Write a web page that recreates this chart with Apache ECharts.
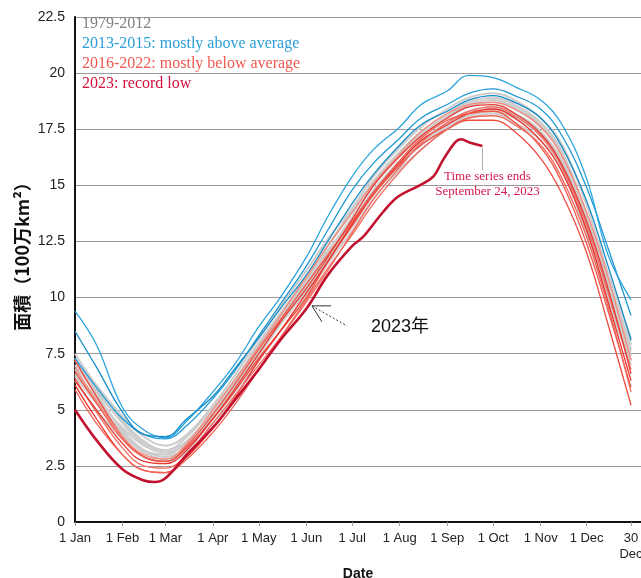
<!DOCTYPE html>
<html><head><meta charset="utf-8">
<script src="https://cdn.jsdelivr.net/npm/echarts@6/dist/echarts.min.js"></script>
<style>html,body{margin:0;padding:0;background:#fff}#c{width:641px;height:578px}</style>
</head><body><div id="c"></div>
<script>
// sample days (day of year, 0 = 1 Jan)
const days = [0,14,31,45,59,73,90,104,120,134,151,165,181,195,212,226,243,257,273,287,304,318,334,348,363];
const tickDays = [0,31,59,90,120,151,181,212,243,273,304,334,363];
const tickLabels = ['1 Jan','1 Feb','1 Mar','1 Apr','1 May','1 Jun','1 Jul','1 Aug','1 Sep','1 Oct','1 Nov','1 Dec','30\nDec'];

// 1979-2012 (grey band, representative lines)
const grey1 = [7.5,6.1,4.7,3.8,3.4,3.9,5.2,6.5,8.2,9.6,11.2,12.6,14.0,15.4,16.7,17.6,18.4,18.9,19.1,18.8,18.0,16.8,14.1,11.1,8.2];
const grey2 = [7.2,5.9,4.4,3.5,3.2,3.8,5.1,6.3,8.0,9.3,10.9,12.3,13.8,15.2,16.5,17.4,18.2,18.7,18.9,18.6,17.8,16.5,13.7,10.8,7.9];
const grey3 = [6.8,5.5,4.2,3.4,3.1,3.5,4.7,6.0,7.6,9.0,10.5,12.0,13.6,15.0,16.3,17.2,18.0,18.5,18.7,18.4,17.6,16.3,13.5,10.5,7.6];
const grey4 = [7.0,5.7,4.1,3.2,2.9,3.4,4.8,6.1,7.8,9.1,10.7,12.1,13.4,14.8,16.1,17.0,17.8,18.3,18.5,18.2,17.4,16.0,13.3,10.2,7.4];
const grey5 = [6.5,5.3,3.9,3.1,2.8,3.3,4.6,5.8,7.4,8.8,10.3,11.7,13.2,14.6,15.9,16.8,17.6,18.1,18.3,18.0,17.2,15.9,13.0,10.0,7.2];
const grey6 = [6.3,5.0,3.7,2.9,2.7,3.1,4.4,5.6,7.2,8.5,10.1,11.5,13.0,14.4,15.7,16.6,17.5,18.0,18.2,17.8,17.0,15.7,12.8,9.8,7.0];
const grey7 = [7.3,5.8,4.5,3.6,3.2,3.6,4.9,6.2,7.9,9.2,10.8,12.3,13.9,15.1,16.4,17.3,18.1,18.6,18.8,18.5,17.7,16.4,13.6,10.7,7.9];
const grey8 = [6.6,5.4,4.0,3.2,3.0,3.6,4.9,6.0,7.5,8.8,10.4,11.8,13.3,14.7,16.0,16.9,17.7,18.2,18.4,18.1,17.3,16.1,13.2,10.3,7.7];

// 2013-2015 (blue)
const blue2013 = [7.3,6.0,4.6,3.9,3.7,4.3,5.5,6.7,8.3,9.7,11.4,13.0,14.8,16.0,17.1,18.0,18.6,19.1,19.3,19.0,18.4,17.2,14.9,12.2,9.2];
const blue2014 = [9.4,7.9,5.1,4.1,3.75,4.5,5.8,7.0,8.7,10.0,11.8,13.6,15.4,16.6,17.6,18.6,19.2,19.9,19.8,19.4,18.8,17.7,15.3,11.9,9.9];
const blue2015 = [8.5,6.9,4.9,3.9,3.8,4.6,5.6,6.8,8.2,9.5,11.0,12.5,14.2,15.5,16.8,17.7,18.3,18.8,19.0,18.7,18.0,16.7,14.3,11.4,8.1];

// 2016-2022 (red)
const red2016 = [7.2,5.6,3.8,2.9,2.7,3.3,4.6,5.8,7.3,8.5,10.0,11.6,13.2,14.6,15.9,16.8,17.5,17.9,17.9,17.4,16.2,14.6,12.0,8.8,5.2];
const red2017 = [6.1,4.6,3.0,2.3,2.2,2.9,4.2,5.5,7.2,8.5,10.2,11.6,13.3,14.7,16.0,17.0,17.7,18.2,18.4,18.0,17.0,15.6,13.0,9.8,6.3];
const red2018 = [6.4,4.9,3.3,2.5,2.4,3.0,4.4,5.6,7.0,8.2,9.8,11.2,12.9,14.4,15.8,16.9,17.8,18.3,18.5,18.1,17.2,15.8,13.2,10.2,6.8];
const red2019 = [6.7,5.3,3.7,2.9,2.7,3.4,4.8,6.1,7.7,9.0,10.6,11.9,13.4,14.7,16.1,17.1,17.9,18.2,18.3,17.8,16.7,15.1,12.4,9.4,6.0];
const red2020 = [6.9,5.4,3.8,3.0,2.8,3.5,5.0,6.3,7.8,9.2,10.9,12.3,13.8,15.1,16.4,17.4,18.2,18.6,18.7,18.4,17.6,16.3,13.8,10.9,7.2];
const red2021 = [6.3,5.0,3.5,2.7,2.6,3.2,4.6,5.9,7.5,8.9,10.4,11.8,13.5,15.0,16.3,17.2,18.0,18.5,18.6,18.2,17.3,15.9,13.4,10.4,6.6];
const red2022 = [5.9,4.4,3.0,2.3,2.2,2.8,4.0,5.2,6.8,8.2,9.9,11.3,12.8,14.2,15.6,16.6,17.5,18.0,18.1,17.7,16.8,15.3,12.7,9.6,5.8];

// 2023 (record low, ends 24 Sep)
const days2023 = [0,14,31,45,52,59,73,90,104,120,134,151,165,181,188,201,211,225,234,240,248,252,258,266];
const ice2023 = [5.0,3.65,2.35,1.85,1.78,1.95,3.0,4.2,5.4,6.8,8.1,9.5,11.0,12.3,12.7,13.8,14.5,15.0,15.4,16.1,16.9,17.05,16.9,16.75];

const greys = [grey1,grey2,grey3,grey4,grey5,grey6,grey7,grey8];
const blues = [blue2013,blue2014,blue2015];
const reds = [red2016,red2017,red2018,red2019,red2020,red2021,red2022];
const blueColors = ['#1f98d4','#2aa4dd','#168cc6'];
const redColors = ['#f04a3e','#ee2f2a','#f36b60','#f25548','#f58a7e','#e83a33','#f1665a'];

const pair = (xs, ys) => xs.map((d, i) => [d, ys[i]]);
const series = [];
greys.forEach(g => series.push({type:'line', name:'1979-2012', data:pair(days,g), smooth:0.4, symbol:'none',
  lineStyle:{color:'#cccccc', width:2}, silent:true, z:1}));
blues.forEach((b,i) => series.push({type:'line', name:'2013-2015', data:pair(days,b), smooth:0.4, symbol:'none',
  lineStyle:{color:blueColors[i], width:1.3}, silent:true, z:2}));
reds.forEach((r,i) => series.push({type:'line', name:'2016-2022', data:pair(days,r), smooth:0.4, symbol:'none',
  lineStyle:{color:redColors[i], width:1.3}, silent:true, z:3}));
series.push({type:'line', name:'2023', data:pair(days2023,ice2023), smooth:0.4, symbol:'none',
  lineStyle:{color:'#c3122f', width:2.6}, silent:true, z:4});

const chart = echarts.init(document.getElementById('c'), null, {renderer:'canvas'});
const serif = '"Liberation Serif", "DejaVu Serif", serif';
const sans = '"Liberation Sans", Arial, sans-serif';
chart.setOption({
  animation:false,
  backgroundColor:'#fff',
  grid:{left:75, right:0, top:17, bottom:56, containLabel:false, outerBoundsMode:'none'},
  xAxis:{type:'value', min:0, max:369.5,
    axisLine:{show:true, lineStyle:{color:'#111', width:2}},
    axisTick:{show:true, customValues:tickDays, length:4, lineStyle:{color:'#999'}},
    axisLabel:{customValues:tickDays, fontSize:13, color:'#222', margin:8, lineHeight:16, fontFamily:sans,
      hideOverlap:false,
      formatter:v => tickLabels[tickDays.indexOf(Math.round(v))] || ''},
    splitLine:{show:false},
    name:'Date', nameLocation:'middle', nameGap:43,
    nameTextStyle:{fontSize:14, fontWeight:'bold', color:'#111', fontFamily:sans}},
  yAxis:{type:'value', min:0, max:22.5, interval:2.5,
    axisLine:{show:true, lineStyle:{color:'#111', width:2}},
    axisTick:{show:false},
    axisLabel:{fontSize:14, color:'#222', margin:10, fontFamily:sans},
    splitLine:{show:true, lineStyle:{color:'#999', width:1}}},
  series
});

const P = (d, v) => chart.convertToPixel({xAxisIndex:0, yAxisIndex:0}, [d, v]);
const tip = P(154.7, 9.63);
const end = P(days2023[days2023.length-1], ice2023[ice2023.length-1]);
const legendItems = [
  ['1979-2012', '#808080', 24],
  ['2013-2015: mostly above average', '#2a9fd6', 44],
  ['2016-2022: mostly below average', '#f0584e', 64],
  ['2023: record low', '#d0103a', 84]
];
const graphics = legendItems.map(([t,c,y]) => ({type:'text', x:82, y:y, silent:true,
  style:{text:t, fill:c, font:'16px ' + serif, align:'left', verticalAlign:'middle'}}));
graphics.push(
  {type:'text', x:22, y:252, rotation:Math.PI/2, silent:true,
   style:{text:'面積（100万km²）', fill:'#111', font:'bold 18px "Noto Sans CJK JP", sans-serif', align:'center', verticalAlign:'middle'}},
  {type:'line', silent:true, shape:{x1:end[0], y1:end[1]+2, x2:end[0], y2:end[1]+24}, style:{stroke:'#aaaaaa', lineWidth:1}},
  {type:'text', x:end[0]+5, y:end[1]+31, silent:true,
   style:{text:'Time series ends', fill:'#d4184a', font:'13px ' + serif, align:'center', verticalAlign:'middle'}},
  {type:'text', x:end[0]+5, y:end[1]+46, silent:true,
   style:{text:'September 24, 2023', fill:'#d4184a', font:'13px ' + serif, align:'center', verticalAlign:'middle'}},
  {type:'line', silent:true, shape:{x1:tip[0], y1:tip[1], x2:tip[0]+35, y2:tip[1]+20}, style:{stroke:'#333', lineWidth:1, lineDash:[2,2]}},
  {type:'polyline', silent:true, shape:{points:[[tip[0]+19, tip[1]], [tip[0], tip[1]], [tip[0]+10, tip[1]+16]]}, style:{stroke:'#333', lineWidth:1, fill:null}},
  {type:'text', x:tip[0]+59, y:tip[1]+21, silent:true,
   style:{text:'2023年', fill:'#111', font:'18px "Liberation Sans", "Noto Sans CJK JP", sans-serif', align:'left', verticalAlign:'middle'}}
);
chart.setOption({graphic:graphics});
</script></body></html>
